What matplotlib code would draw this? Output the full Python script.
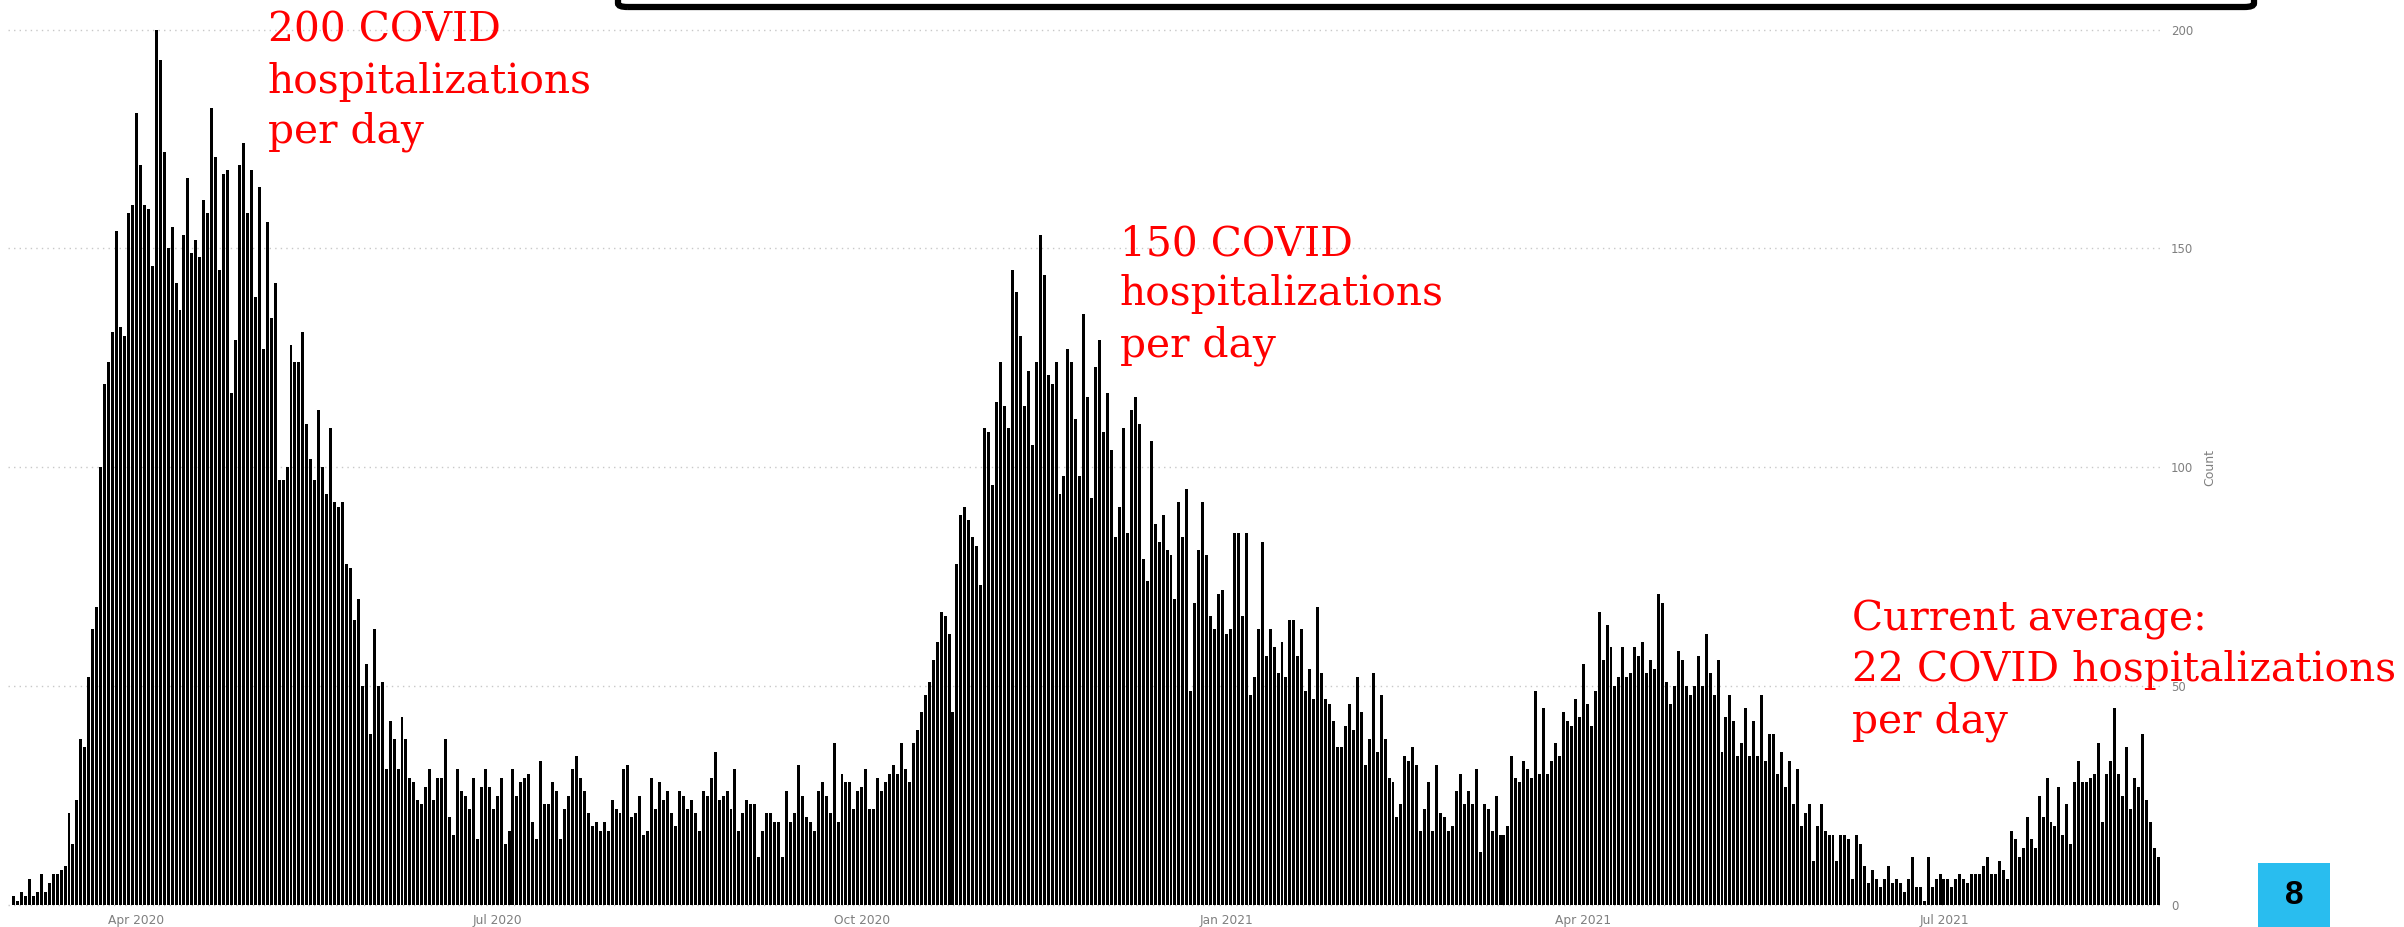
import matplotlib.pyplot as plt
import matplotlib.dates as mdates
from matplotlib.patches import FancyBboxPatch, Rectangle
import pandas as pd

first_day = "2020-03-01"

# daily counts, one list per stretch of time
counts_mar_may20 = [2, 1, 3, 2, 6, 2, 3, 7, 3, 5, 7, 7, 8, 9, 21, 14, 24, 38, 36, 52,
                    63, 68, 100, 119, 124, 131, 154, 132, 130, 158, 160, 181, 169, 160,
                    159, 146, 200, 193, 172, 150, 155, 142, 136, 153, 166, 149, 152, 148,
                    161, 158, 182, 171, 145, 167, 168, 117, 129, 169, 174, 158, 168, 139,
                    164, 127]
counts_may_jul20 = [156, 134, 142, 97, 97, 100, 128, 124, 124, 131, 110, 102, 97, 113,
                    100, 94, 109, 92, 91, 92, 78, 77, 65, 70, 50, 55, 39, 63, 50, 51,
                    31, 42, 38, 31, 43, 38, 29, 28, 24, 23, 27, 31, 24, 29, 29, 38, 20,
                    16, 31, 26, 25, 22, 29, 15, 27, 31, 27, 22, 25, 29, 14, 17, 31, 25,
                    28, 29]
counts_jul_sep20 = [30, 19, 15, 33, 23, 23, 28, 26, 15, 22, 25, 31, 34, 29, 26, 21, 18,
                    19, 17, 19, 17, 24, 22, 21, 31, 32, 20, 21, 25, 16, 17, 29, 22, 28,
                    24, 26, 21, 18, 26, 25, 22, 24, 21, 17, 26, 25, 29, 35, 24, 25, 26,
                    22, 31, 17, 21, 24, 23, 23, 11, 17, 21, 21, 19, 19, 11, 26, 19, 21,
                    32, 25, 20, 19, 17, 26, 28, 25]
counts_sep_nov20 = [21, 37, 19, 30, 28, 28, 22, 26, 27, 31, 22, 22, 29, 26, 28, 30, 32,
                    30, 37, 31, 28, 37, 40, 44, 48, 51, 56, 60, 67, 66, 62, 44, 78, 89,
                    91, 88, 84, 82, 73, 109, 108, 96, 115, 124, 114, 109, 145, 140, 130,
                    114, 122, 105, 124, 153, 144, 121, 119, 124, 94, 98, 127, 124, 111,
                    98, 135, 116]
counts_nov20_feb21 = [93, 123, 129, 108, 117, 104, 84, 91, 109, 85, 113, 116, 110, 79,
                      74, 106, 87, 83, 89, 81, 80, 70, 92, 84, 95, 49, 69, 81, 92, 80,
                      66, 63, 71, 72, 62, 63, 85, 85, 66, 85, 48, 52, 63, 83, 57, 63,
                      59, 53, 60, 52, 65, 65, 57, 63, 49, 54, 47, 68, 53, 47, 46, 42,
                      36, 36, 41, 46]
counts_feb_apr21 = [40, 52, 44, 32, 38, 53, 35, 48, 38, 29, 28, 20, 23, 34, 33, 36, 32,
                    17, 22, 28, 17, 32, 21, 20, 17, 18, 26, 30, 23, 26, 23, 31, 12, 23,
                    22, 17, 25, 16, 16, 18, 34, 29, 28, 33, 31, 29, 49, 30, 45, 30, 33,
                    37, 34, 44, 42, 41, 47, 43, 55, 46, 41, 49, 67, 56, 64]
counts_apr_jun21 = [59, 50, 52, 59, 52, 53, 59, 57, 60, 53, 56, 54, 71, 69, 51, 46, 50,
                    58, 56, 50, 48, 50, 57, 50, 62, 53, 48, 56, 35, 43, 48, 42, 34, 37,
                    45, 34, 42, 34, 48, 33, 39, 39, 30, 35, 27, 33, 23, 31, 18, 21, 23,
                    10, 18, 23, 17, 16, 16, 10, 16, 16, 15, 6, 16, 14, 9, 5]
counts_jun_aug21 = [8, 6, 4, 6, 9, 5, 6, 5, 3, 6, 11, 4, 4, 1, 11, 4, 6, 7, 6, 6, 4, 6,
                    7, 6, 5, 7, 7, 7, 9, 11, 7, 7, 10, 8, 6, 17, 15, 11, 13, 20, 15, 13,
                    25, 20, 29, 19, 18, 27, 16, 23, 14, 28, 33, 28, 28, 29, 30, 37, 19,
                    30, 33, 45, 30, 25, 36, 22, 29, 27, 39, 24, 19, 13, 11]

tick_dates = ["2020-04-01", "2020-07-01", "2020-10-01",
              "2021-01-01", "2021-04-01", "2021-07-01"]
y_ticks = [0, 50, 100, 150, 200]
y_label = "Count"

note_first_wave = ["200 COVID", "hospitalizations", "per day"]
note_second_wave = ["150 COVID", "hospitalizations", "per day"]
note_current = ["Current average:", "22 COVID hospitalizations", "per day"]
slide_number = "8"

W, H = 2404, 927


def fx(px):
    return px / W


def fy(py):
    return 1 - py / H


def main():
    counts = (counts_mar_may20 + counts_may_jul20 + counts_jul_sep20 + counts_sep_nov20
              + counts_nov20_feb21 + counts_feb_apr21 + counts_apr_jun21 + counts_jun_aug21)
    days = pd.date_range(first_day, periods=len(counts), freq="D")

    fig = plt.figure(figsize=(W / 100, H / 100), dpi=100)

    # panel placement in pixels: zero line at y=905, 200 at y=29.6
    left, right, top, bottom = 8, 2162, 0, 909
    ax = fig.add_axes([fx(left), fy(bottom), fx(right - left), (bottom - top) / H])
    unit = (905 - 29.6) / 200
    ax.set_ylim(-(bottom - 905) / unit, 905 / unit)

    apr1 = mdates.date2num(pd.Timestamp("2020-04-01"))
    per_day = 3.964
    ax.set_xlim(apr1 + (left - 136.4) / per_day, apr1 + (right - 136.4) / per_day)

    ax.bar(days, counts, width=0.75, color="#000000", linewidth=0, zorder=2)

    ax.set_xticks([mdates.date2num(pd.Timestamp(d)) for d in tick_dates])
    ax.xaxis.set_major_formatter(mdates.DateFormatter("%b %Y"))
    ax.tick_params(axis="x", length=0, pad=3.5, labelsize=8.8, labelcolor="#7f7f7f")

    ax.yaxis.tick_right()
    ax.set_yticks(y_ticks)
    ax.tick_params(axis="y", length=0, pad=6.5, labelsize=8.5, labelcolor="#7f7f7f")
    for lab in ax.get_yticklabels():
        lab.set_horizontalalignment("left")

    ax.grid(axis="y", color="#c8c8c8", linestyle=(0, (1, 3)), linewidth=1.0)
    ax.grid(axis="x", visible=False)
    ax.set_axisbelow(True)
    for s in ax.spines.values():
        s.set_visible(False)
    ax.set_facecolor("none")

    fig.text(fx(2210), fy(467), y_label, rotation=90, ha="center", va="center",
             fontsize=9, color="#7f7f7f")

    # red call-outs
    for lines, x0, y0 in [(note_first_wave, 268, 42),
                          (note_second_wave, 1120, 255),
                          (note_current, 1852, 631)]:
        for i, line in enumerate(lines):
            fig.text(fx(x0), fy(y0 + i * 50.5), line, color="#ff0000", fontsize=29.3,
                     family="DejaVu Serif", ha="left", va="baseline")

    # thick frame hanging from the top of the slide
    frame = FancyBboxPatch((fx(618), fy(7)), fx(2254 - 618), 0.2,
                           boxstyle="round,pad=0,rounding_size=0.004",
                           transform=fig.transFigure, fill=False,
                           edgecolor="black", linewidth=4.5, clip_on=False)
    fig.add_artist(frame)

    badge = Rectangle((fx(2258), 0), fx(72), 64 / H, transform=fig.transFigure,
                      facecolor="#29bdef", edgecolor="none")
    fig.add_artist(badge)
    fig.text(fx(2294), fy(895), slide_number, ha="center", va="center", fontsize=24,
             fontweight="bold", family="Liberation Sans", color="black")

    fig.savefig("out.png", dpi=100)
    plt.close(fig)


if __name__ == "__main__":
    main()
